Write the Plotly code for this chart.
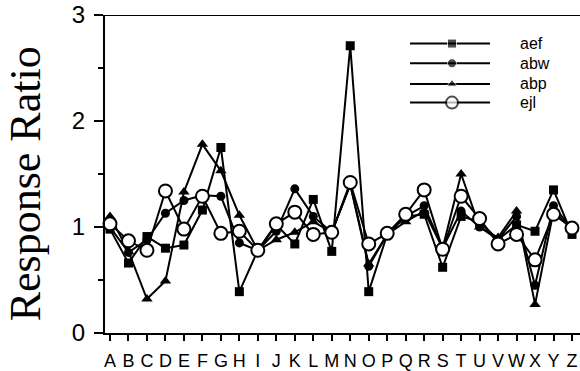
import plotly.graph_objects as go

letters = list("ABCDEFGHIJKLMNOPQRSTUVWXYZ")

aef = [0.98, 0.66, 0.91, 0.80, 0.83, 1.16, 1.75, 0.39, 0.78, 1.02, 0.84, 1.26, 0.77, 2.71, 0.39,
       0.93, 1.10, 1.12, 0.62, 1.10, 1.05, 0.88, 1.02, 0.96, 1.35, 0.93]
abw = [1.00, 0.76, 0.88, 1.13, 1.25, 1.30, 1.29, 0.85, 0.78, 0.96, 1.36, 1.10, 0.95, 1.40, 0.63,
       0.93, 1.10, 1.20, 0.80, 1.15, 1.00, 0.88, 1.10, 0.45, 1.20, 0.98]
abp = [1.10, 0.77, 0.32, 0.49, 1.33, 1.78, 1.53, 1.11, 0.78, 0.88, 0.95, 1.05, 0.95, 1.40, 0.65,
       0.93, 1.05, 1.15, 0.80, 1.50, 1.00, 0.90, 1.15, 0.27, 1.15, 0.98]
ejl = [1.03, 0.87, 0.78, 1.34, 0.98, 1.29, 0.94, 0.96, 0.78, 1.03, 1.14, 0.93, 0.95, 1.42, 0.84,
       0.94, 1.12, 1.35, 0.79, 1.29, 1.08, 0.84, 0.93, 0.69, 1.12, 0.99]

series = [
    ("aef", aef, dict(symbol="square", size=9, color="black")),
    ("abw", abw, dict(symbol="circle", size=9, color="black")),
    ("abp", abp, dict(symbol="triangle-up", size=10, color="black")),
    ("ejl", ejl, dict(symbol="circle", size=13, color="white", line=dict(width=2, color="black"))),
]
legend_sizes = [9, 9, 9, 12]

fig = go.Figure()
xs = list(range(len(letters)))
for name, vals, mk in series:
    fig.add_trace(go.Scatter(x=xs, y=vals, mode="lines+markers", name=name,
                             line=dict(color="black", width=2), marker=mk, cliponaxis=False))

# custom legend on overlay axes (0..1 coordinates)
W, H, L, T = 475, 323, 105, 15
def px(xp): return (xp - L) / W
def py(yp): return (T + H - yp) / H
rows = [44, 64, 85, 104]
for (name, vals, mk), ry, ls in zip(series, rows, legend_sizes):
    m = dict(mk)
    m["size"] = [0, ls, 0]
    fig.add_trace(go.Scatter(x=[px(410), px(452), px(490)], y=[py(ry)] * 3, mode="lines+markers",
                             line=dict(color="black", width=2), marker=m, xaxis="x2", yaxis="y2",
                             showlegend=False, hoverinfo="skip"))
    fig.add_annotation(x=px(518), y=py(ry), xref="paper", yref="paper", text=name, showarrow=False,
                       xanchor="left", yanchor="middle",
                       font=dict(family="Liberation Sans, Arial", size=16, color="black"))

fig.add_shape(type="line", xref="paper", yref="y", x0=0, x1=1, y0=3, y1=3,
              line=dict(color="black", width=2))

fig.add_annotation(x=px(25), y=py(187), xref="paper", yref="paper", text="Response Ratio",
                   textangle=-90, showarrow=False, xanchor="center", yanchor="middle",
                   font=dict(family="Liberation Serif, Times New Roman", size=44, color="black"))

fig.update_layout(
    width=580, height=371, margin=dict(l=L, r=0, t=T, b=371 - T - H),
    paper_bgcolor="white", plot_bgcolor="white", showlegend=False,
    xaxis=dict(range=[-5 / 18.48, -5 / 18.48 + W / 18.48], tickmode="array", tickvals=xs,
               ticktext=letters, ticks="outside", ticklen=6, tickwidth=2, tickcolor="black",
               showline=True, linecolor="black", linewidth=2, showgrid=False, zeroline=False,
               tickfont=dict(family="Liberation Sans, Arial", size=18, color="black"),
               ticklabelstandoff=4),
    yaxis=dict(range=[0, 3], tickvals=[0, 1, 2, 3], ticks="outside", ticklen=9, tickwidth=2,
               tickcolor="black", showline=True, linecolor="black", linewidth=2, showgrid=False,
               zeroline=False, tickfont=dict(family="Liberation Sans, Arial", size=24, color="black"),
               minor=dict(tickvals=[0.5, 1.5, 2.5], ticks="outside", ticklen=5, tickwidth=2,
                          tickcolor="black", showgrid=False),
               ticklabelstandoff=4),
    xaxis2=dict(range=[0, 1], overlaying="x", visible=False, fixedrange=True),
    yaxis2=dict(range=[0, 1], overlaying="y", visible=False, fixedrange=True),
)

fig.write_html("out.html")
